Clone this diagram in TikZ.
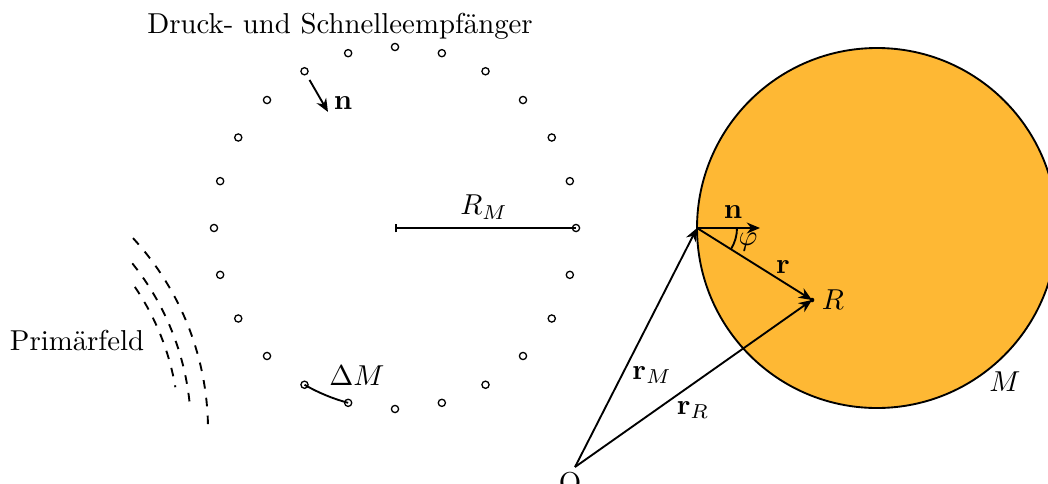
\documentclass[tikz,border=0pt]{standalone}
\usetikzlibrary{arrows.meta,calc}
\definecolor{morange}{RGB}{254,184,52}
\begin{document}
\begin{tikzpicture}[x=0.3472pt,y=-0.3472pt,
  ln/.style={line width=0.65pt},
  vec/.style={ln,-{Stealth[length=4.6pt,width=3.8pt,inset=1.5pt]}},
  rec/.style={draw,circle,line width=0.45pt,minimum size=2.5pt,inner sep=0pt},
  lab/.style={inner sep=0pt},
  dsh/.style={line width=0.65pt,dash pattern=on 3pt off 3.2pt}]
\clip (0,0) rectangle (1048,483);
% receivers
\coordinate (c) at (395,228);
\foreach \i in {0,...,23}{
  \node[rec] (m\i) at ($(c)+(\i*15:181)$) {};
}
\node[lab] (title) at (340,26) {Druck- und Schnelleempf\"anger};
% normal at receiver
\coordinate (ns) at ($(m16.center)!10/181!(c)$);
\coordinate (ne) at ($(m16.center)!47/181!(c)$);
\draw[vec] (ns) -- (ne);
\node[lab] (nl) at (343,103) {$\mathbf{n}$};
% radius
\draw[ln,{Bar[width=3pt]}-] (c) -- (m0.center);
\node[lab] (RM) at (484,207) {$R_M$};
% Delta M
\draw[ln] (m8.center) arc[start angle=120,end angle=105,radius=181];
\node[lab] (dM) at (357,376) {$\Delta M$};
% primary field
\coordinate (pc) at (-75,430);
\draw[dsh] ($(pc)+(-42.7:283)$) arc[start angle=-42.7,end angle=0,radius=283];
\draw[dsh] ($(pc)+(-38.8:266)$) arc[start angle=-38.8,end angle=-5,radius=266];
\draw[dsh] ($(pc)+(-34.3:254)$) arc[start angle=-34.3,end angle=-9.7,radius=254];
\node[lab] (pf) at (77,340) {Prim\"arfeld};
% right part
\coordinate (cM) at (877,228);
\fill[morange] (cM) circle[radius=180];
\draw[ln] (cM) circle[radius=180];
\node[lab] (Ml) at (1005,382) {$M$};
\coordinate (P) at (697,228);
\coordinate (R) at (812,300);
\coordinate (O) at (575,467);
\coordinate (nE) at (760,228);
\fill (R) circle[radius=0.8pt];
\draw[vec] (O) -- (P);
\draw[vec] (O) -- (R);
\draw[vec] (P) -- (R);
\draw[vec] (P) -- (nE);
\draw[ln] ($(P)+(40,0)$) arc[start angle=0,end angle=32,radius=40];
\node[lab] (phi) at (748,242) {$\varphi$};
\node[lab] (n2) at (733,212) {$\mathbf{n}$};
\node[lab] (rl) at (783,267) {$\mathbf{r}$};
\node[lab] (Rl) at (833,300) {$R$};
\node[lab] (rMl) at (652,375) {$\mathbf{r}_M$};
\node[lab] (rRl) at (693,410) {$\mathbf{r}_R$};
\node[lab,anchor=north] (Ol) at (570,472) {O};
\end{tikzpicture}
\end{document}
